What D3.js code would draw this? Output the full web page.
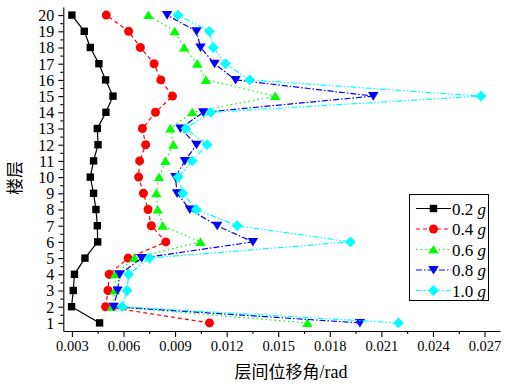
<!DOCTYPE html>
<html><head><meta charset="utf-8">
<script src="https://cdn.jsdelivr.net/npm/d3@7"></script>
<style>
html,body{margin:0;padding:0;background:#fff;}
svg{display:block;}
svg text{font-family:"Liberation Serif","Times New Roman","DejaVu Serif",serif !important;fill:#000;}
svg text.cjk{font-family:"Noto Sans CJK SC","Noto Sans CJK JP",sans-serif !important;}
svg tspan.lat{font-family:"Liberation Serif","Times New Roman","DejaVu Serif",serif !important;}
</style></head>
<body>
<script>
const floors = [1,2,3,4,5,6,7,8,9,10,11,12,13,14,15,16,17,18,19,20];
const drift02 = [0.00461,0.00298,0.00308,0.00315,0.00376,0.00450,0.00448,0.00440,0.00426,0.00407,0.00426,0.00452,0.00448,0.00498,0.00539,0.00496,0.00457,0.00407,0.00372,0.00300];
const drift04 = [0.01100,0.00496,0.00510,0.00517,0.00627,0.00846,0.00762,0.00743,0.00716,0.00688,0.00694,0.00729,0.00710,0.00786,0.00885,0.00817,0.00778,0.00698,0.00630,0.00500];
const drift06 = [0.01670,0.00533,0.00550,0.00553,0.00663,0.01048,0.00828,0.00799,0.00791,0.00807,0.00844,0.00890,0.00873,0.01000,0.01483,0.01079,0.01029,0.00953,0.00898,0.00745];
const drift08 = [0.01975,0.00543,0.00566,0.00578,0.00706,0.01353,0.01145,0.00986,0.00912,0.00902,0.00957,0.01025,0.00931,0.01064,0.02053,0.01252,0.01130,0.01048,0.01025,0.00854];
const drift10 = [0.02200,0.00593,0.00621,0.00630,0.00751,0.01920,0.01262,0.01023,0.00945,0.00918,0.01000,0.01087,0.00963,0.01108,0.02680,0.01334,0.01194,0.01122,0.01100,0.00917];
const seriesNames = ["0.2","0.4","0.6","0.8","1.0"];
const xTicks = [0.003,0.006,0.009,0.012,0.015,0.018,0.021,0.024,0.027];
const yTicks = floors;
const xTitleCJK = "层间位移角";
const xTitleUnit = "/rad";
const yTitle = "楼层";

const W = 509, H = 387;
const svg = d3.select("body").append("svg").attr("width", W).attr("height", H);

const x = d3.scaleLinear().domain([0.0025, 0.0279]).range([63.3, 500]);
const y = d3.scaleLinear().domain([0.5, 20.5]).range([331, 7]);

const xMinor = d3.range(0.0045, 0.0279, 0.003);
const yMinor = d3.range(1.5, 20.5, 1);

const gx = svg.append("g").attr("transform", `translate(0,${y(0.5)})`);
gx.call(d3.axisBottom(x).tickValues(xTicks).tickFormat(d3.format(".3f")).tickSizeInner(6).tickSizeOuter(0).tickPadding(4));
gx.append("g").call(d3.axisBottom(x).tickValues(xMinor).tickFormat("").tickSizeInner(3).tickSizeOuter(0)).select(".domain").remove();
gx.attr("font-family", null);
gx.selectAll("text").style("font-size","14.5px");

const gy = svg.append("g").attr("transform", `translate(${x(0.0025)},0)`);
gy.call(d3.axisLeft(y).tickValues(yTicks).tickFormat(d3.format("d")).tickSizeInner(5).tickSizeOuter(0).tickPadding(4));
gy.append("g").call(d3.axisLeft(y).tickValues(yMinor).tickFormat("").tickSizeInner(3).tickSizeOuter(0)).select(".domain").remove();
gy.attr("font-family", null);
gy.selectAll("text").style("font-size","16px").attr("dy","0.34em");
svg.selectAll(".domain, .tick line").attr("stroke","#000").attr("stroke-width",1.1);

// titles
const xt = svg.append("text").attr("class","cjk").attr("x", 291).attr("y", 378).attr("text-anchor","middle")
  .style("font-size","17px");
xt.append("tspan").text(xTitleCJK);
xt.append("tspan").attr("class","lat").style("font-size","18px").text(xTitleUnit);
svg.append("text").attr("class","cjk").attr("transform","translate(21,178) rotate(-90)").attr("text-anchor","middle")
  .style("font-size","17px").text(yTitle);

function markerPath(type){
  switch(type){
    case "square": return "M-3.7,-3.7H3.7V3.7H-3.7Z";
    case "circle": return "M4.5,0A4.5,4.5 0 1,1 -4.5,0A4.5,4.5 0 1,1 4.5,0Z";
    case "up": return "M0,-4.6L5.2,4L-5.2,4Z";
    case "down": return "M0,4.6L5.2,-4L-5.2,-4Z";
    case "diamond": return "M0,-5.4L5.4,0L0,5.4L-5.4,0Z";
  }
}
const series = [
  {name: seriesNames[0], vals: drift02, color:"#000000", dash:null, marker:"square"},
  {name: seriesNames[1], vals: drift04, color:"#ff0000", dash:"4,3", marker:"circle"},
  {name: seriesNames[2], vals: drift06, color:"#00ff00", dash:"1.5,3", marker:"up"},
  {name: seriesNames[3], vals: drift08, color:"#0000ff", dash:"6,2,1.5,2", marker:"down"},
  {name: seriesNames[4], vals: drift10, color:"#00ffff", dash:"6,2,1.5,2,1.5,2", marker:"diamond"}
];

const line = d3.line().x(d => x(d[0])).y(d => y(d[1]));
series.forEach(s => {
  const pts = floors.map((f,i) => [s.vals[i], f]);
  const g = svg.append("g");
  g.append("path").datum(pts).attr("d", line).attr("fill","none")
    .attr("stroke", s.color).attr("stroke-width", 1.2)
    .attr("stroke-dasharray", s.dash);
  g.selectAll("path.m").data(pts).enter().append("path").attr("class","m")
    .attr("transform", d => `translate(${x(d[0])},${y(d[1])})`)
    .attr("d", markerPath(s.marker)).attr("fill", s.color);
});

// legend
const lg = svg.append("g");
lg.append("rect").attr("x",409.5).attr("y",194.5).attr("width",79).attr("height",106)
  .attr("fill","#fff").attr("stroke","#000").attr("stroke-width",1);
series.forEach((s,i) => {
  const yy = 208.5 + i*20.5;
  lg.append("line").attr("x1",416).attr("x2",451).attr("y1",yy).attr("y2",yy)
    .attr("stroke",s.color).attr("stroke-width",1.2).attr("stroke-dasharray",s.dash);
  lg.append("path").attr("transform",`translate(433.5,${yy})`).attr("d",markerPath(s.marker)).attr("fill",s.color);
  const t = lg.append("text").attr("x",452).attr("y",yy+6).style("font-size","17px");
  t.append("tspan").text(s.name + " ");
  t.append("tspan").style("font-style","italic").text("g");
});
</script>
</body></html>
